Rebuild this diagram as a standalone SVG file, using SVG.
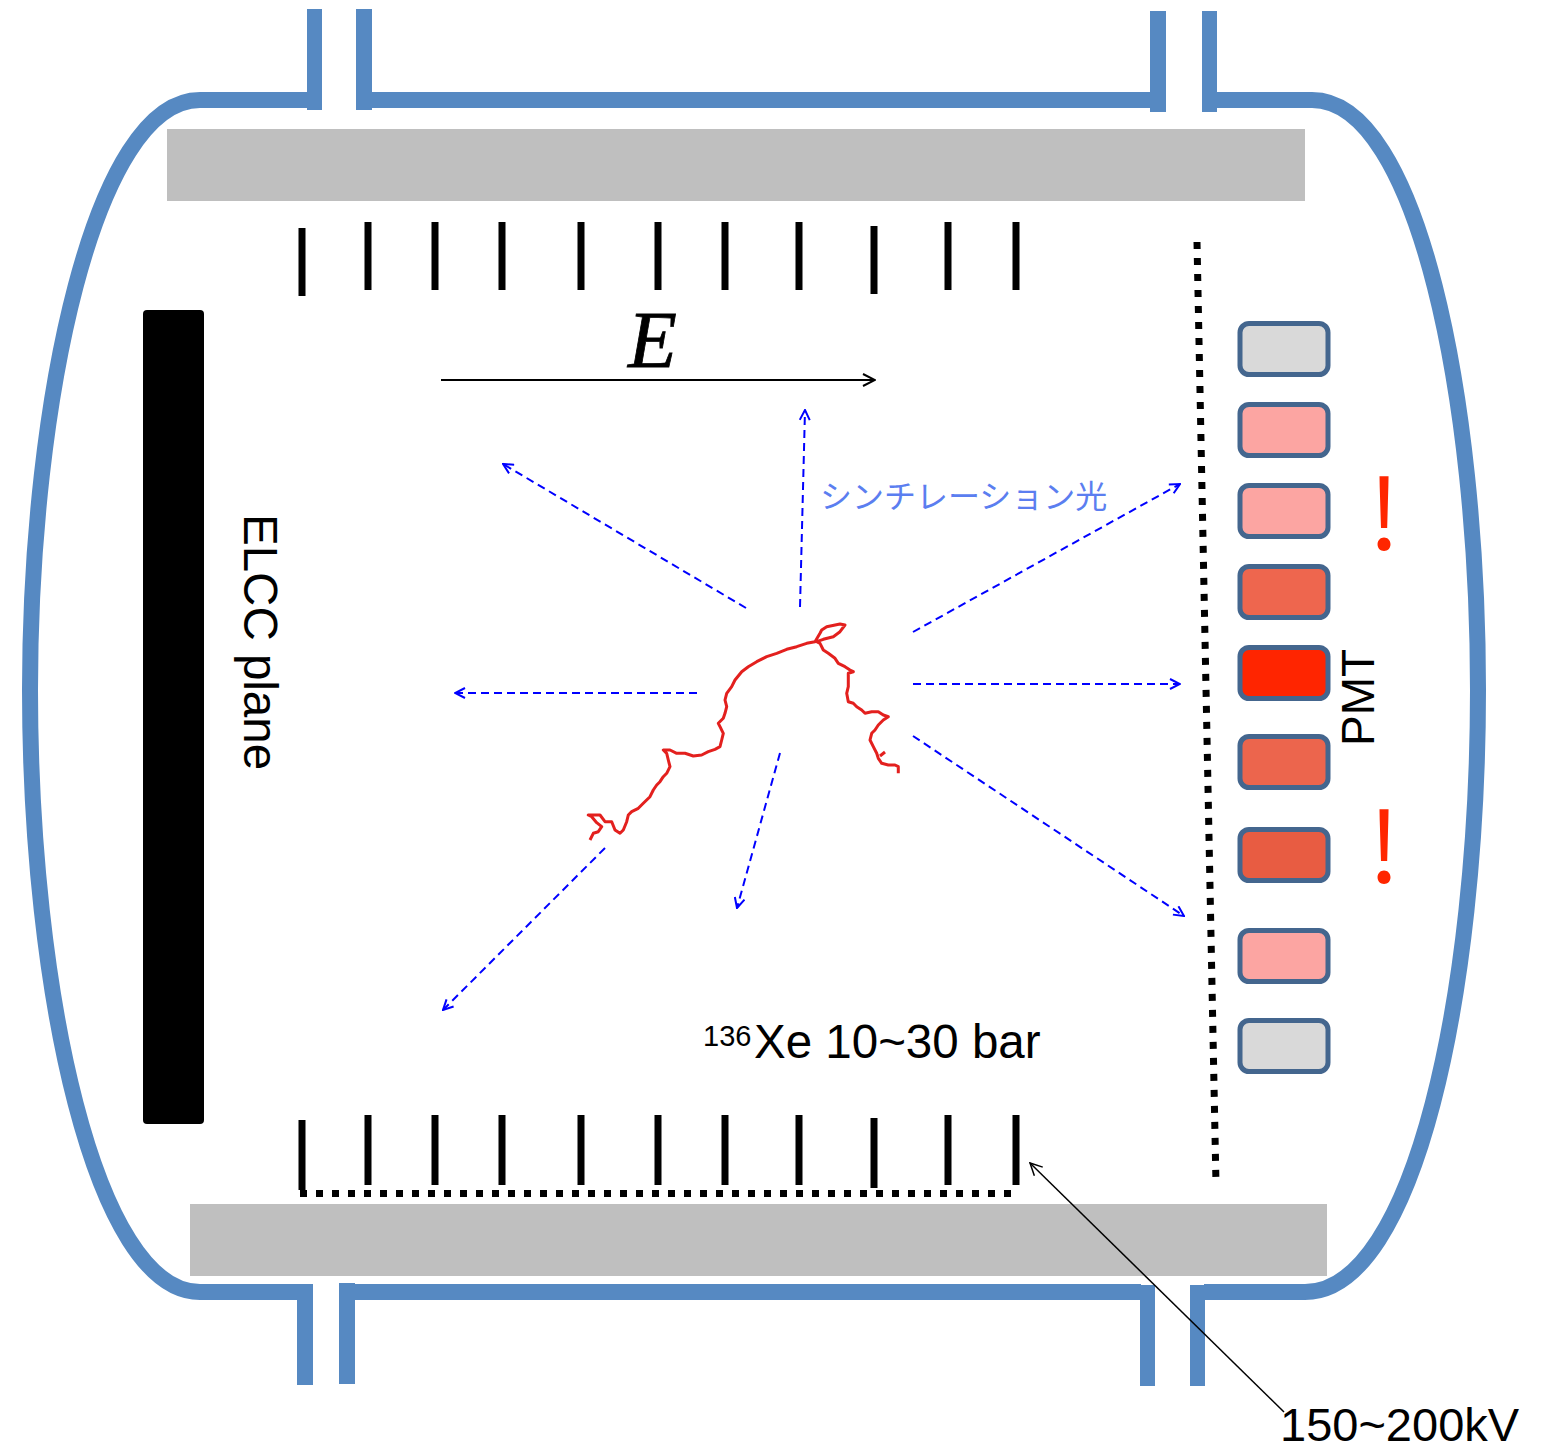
<svg xmlns="http://www.w3.org/2000/svg" width="1547" height="1449" viewBox="0 0 1547 1449">
  <style>
    .wall { fill: none; stroke: #5689C2; stroke-width: 16; }
    .stub { fill: #5689C2; }
    .plate { fill: #BFBFBF; }
    .ring { fill: #000000; }
    .dots { fill: none; stroke: #000000; stroke-width: 7; stroke-dasharray: 7 9; }
    .pmt { stroke: #44668E; stroke-width: 5; }
    .ray { fill: none; stroke: #0000FF; stroke-width: 2; stroke-dasharray: 8 5; marker-end: url(#ah-blue); }
    .lbl { font-family: "Liberation Sans", Arial, sans-serif; fill: #000000; }
    .warn { font-family: "Noto Sans CJK JP", "Noto Sans", sans-serif; fill: #FF2600; text-anchor: middle; }
  </style>
  <defs>
    <marker id="ah-blue" viewBox="0 0 12 12" refX="11" refY="6" markerWidth="12" markerHeight="12" markerUnits="userSpaceOnUse" orient="auto">
      <path d="M1,1 L11,6 L1,11" fill="none" stroke="#0000FF" stroke-width="2" stroke-dasharray="none"/>
    </marker>
    <marker id="ah-black" viewBox="0 0 14 14" refX="13" refY="7" markerWidth="14" markerHeight="14" markerUnits="userSpaceOnUse" orient="auto">
      <path d="M1,1 L13,7 L1,13" fill="none" stroke="#000000" stroke-width="2"/>
    </marker>
    <marker id="ah-thin" viewBox="0 0 14 14" refX="13" refY="7" markerWidth="14" markerHeight="14" markerUnits="userSpaceOnUse" orient="auto">
      <path d="M1,1 L13,7 L1,13" fill="none" stroke="#000000" stroke-width="1.5"/>
    </marker>
  </defs>

  <rect width="1547" height="1449" fill="#FFFFFF"/>

  <!-- pressure vessel outline with its four ports -->
  <g id="vessel">
    <path class="wall" d="M308,100 H200 C95,100 30,400 30,690 C30,990 95,1292 200,1292 H298"/>
    <path class="wall" d="M371,100 H1151"/>
    <path class="wall" d="M1216,100 H1312 C1418,100 1478,400 1478,690 C1478,990 1415,1292 1305,1292 H1204"/>
    <path class="wall" d="M354,1292 H1141"/>
    <rect class="stub" x="307" y="9" width="15" height="101"/>
    <rect class="stub" x="356" y="9" width="16" height="101"/>
    <rect class="stub" x="1150" y="11" width="16" height="101"/>
    <rect class="stub" x="1202" y="11" width="15" height="101"/>
    <rect class="stub" x="297" y="1284" width="16" height="101"/>
    <rect class="stub" x="339" y="1283" width="16" height="101"/>
    <rect class="stub" x="1140" y="1285" width="15" height="101"/>
    <rect class="stub" x="1190" y="1285" width="15" height="101"/>
  </g>

  <!-- end plates -->
  <g id="plates">
    <rect class="plate" x="167" y="129" width="1138" height="72"/>
    <rect class="plate" x="190" y="1204" width="1137" height="72"/>
  </g>

  <!-- field cage electrodes -->
  <g id="field-cage-top">
    <rect class="ring" x="298.5" y="228" width="7" height="68"/>
    <rect class="ring" x="364.5" y="222" width="7" height="68"/>
    <rect class="ring" x="431.5" y="222" width="7" height="68"/>
    <rect class="ring" x="498.5" y="222" width="7" height="68"/>
    <rect class="ring" x="577.5" y="222" width="7" height="68"/>
    <rect class="ring" x="654.5" y="222" width="7" height="68"/>
    <rect class="ring" x="721.5" y="222" width="7" height="68"/>
    <rect class="ring" x="795.5" y="222" width="7" height="68"/>
    <rect class="ring" x="870.5" y="226" width="7" height="68"/>
    <rect class="ring" x="944.5" y="222" width="7" height="68"/>
    <rect class="ring" x="1012.5" y="222" width="7" height="68"/>
  </g>
  <g id="field-cage-bottom">
    <rect class="ring" x="298.5" y="1120" width="7" height="70"/>
    <rect class="ring" x="364.5" y="1115" width="7" height="70"/>
    <rect class="ring" x="431.5" y="1115" width="7" height="70"/>
    <rect class="ring" x="498.5" y="1115" width="7" height="70"/>
    <rect class="ring" x="577.5" y="1115" width="7" height="70"/>
    <rect class="ring" x="654.5" y="1115" width="7" height="70"/>
    <rect class="ring" x="721.5" y="1115" width="7" height="70"/>
    <rect class="ring" x="795.5" y="1115" width="7" height="70"/>
    <rect class="ring" x="870.5" y="1118" width="7" height="70"/>
    <rect class="ring" x="944.5" y="1115" width="7" height="70"/>
    <rect class="ring" x="1012.5" y="1115" width="7" height="70"/>
    <line class="dots" x1="300" y1="1193.5" x2="1014" y2="1193.5"/>
  </g>

  <!-- mesh in front of the PMT array -->
  <g id="mesh">
    <line class="dots" x1="1197" y1="242" x2="1216" y2="1184"/>
  </g>

  <!-- ELCC readout plane -->
  <g id="elcc">
    <rect x="143" y="310" width="61" height="814" rx="4" fill="#000000"/>
    <text class="lbl" font-size="47.5" transform="translate(244,514) rotate(90)">ELCC plane</text>
  </g>

  <!-- PMT array, shaded by light yield -->
  <g id="pmts">
    <g id="pmt1"><rect class="pmt" x="1240" y="323.5" width="88" height="51" rx="9" fill="#D9D9D9"/></g>
    <g id="pmt2"><rect class="pmt" x="1240" y="404.5" width="88" height="51" rx="9" fill="#FCA5A2"/></g>
    <g id="pmt3"><rect class="pmt" x="1240" y="485.5" width="88" height="51" rx="9" fill="#FCA5A2"/></g>
    <g id="pmt4"><rect class="pmt" x="1240" y="566.5" width="88" height="51" rx="9" fill="#EE664E"/></g>
    <g id="pmt5"><rect class="pmt" x="1240" y="647.5" width="88" height="51" rx="9" fill="#FF2500"/></g>
    <g id="pmt6"><rect class="pmt" x="1240" y="736.5" width="88" height="51" rx="9" fill="#EC654D"/></g>
    <g id="pmt7"><rect class="pmt" x="1240" y="829.5" width="88" height="51" rx="9" fill="#E85C42"/></g>
    <g id="pmt8"><rect class="pmt" x="1240" y="930.5" width="88" height="51" rx="9" fill="#FCA5A2"/></g>
    <g id="pmt9"><rect class="pmt" x="1240" y="1020.5" width="88" height="51" rx="9" fill="#D9D9D9"/></g>
    <text class="lbl" font-size="46" transform="translate(1374,746) rotate(-90)">PMT</text>
    <text class="warn" x="1384" y="550" font-size="98">!</text>
    <text class="warn" x="1384" y="883" font-size="98">!</text>
  </g>

  <!-- electron track -->
  <g id="track">
    <path fill="none" stroke="#E3201E" stroke-width="3" stroke-linejoin="round" d="M590,840 L593.3,833.3 598.3,831.7 601.7,826.7 596.7,822.7 591.7,816.7 588.3,815 600,815 605,821.7 611.7,821.7 615,830 620,833.3 623.3,830 626.7,821.7 628.3,815 631.7,811.7 638.3,808.3 643.3,803.3 650,796.7 653.3,790 656.7,785 660,781.7 663.3,776.7 666.7,773.3 670,766.7 668.3,760 666.7,753.3 663.3,750 670,750 676.7,753.3 685,753.3 693.3,756 701.7,755 708.3,751.7 715,749.3 720,746.7 721.7,740 723.3,733.3 720,726.7 718.3,723.3 723.3,718.3 725,713.3 726.7,706.7 725,700 726.7,693.3 731.7,686.7 735,680 741.7,671.7 748.3,666.7 756.7,661.7 766.7,656.7 776.7,653.3 786.7,649.3 796.7,646.7 806.7,643.3 815,641.7 820,633.3 821.7,630 826.7,626.7 840,624 845,625 840,631.7 833.3,636.7 823.3,639.3 816.7,641.7 820,643.3 823.3,650 828.3,653.3 835,658.3 838.3,663.3 845,666.7 850,670 853.3,671.7 848.3,673.3 848.3,686.7 846.7,693.3 848.3,701.7 853.3,703.3 856.7,706.7 861.7,710 865,713.3 871.7,711.7 878.3,711.7 883.3,715 888.3,716.7 883.3,720 878.3,725 875,730 871.7,733.3 870,740 873.3,746.7 876.7,753.3 878.3,758.3 881.7,763.3 888.3,765 895,765 898.3,766.7 898.3,773.3"/>
    <path fill="none" stroke="#E3201E" stroke-width="3" d="M880,756 L885,752"/>
  </g>

  <!-- scintillation light rays and field arrow -->
  <g id="connectors">
    <line class="ray" x1="746" y1="608" x2="503" y2="464"/>
    <line class="ray" x1="800" y1="607" x2="805" y2="410"/>
    <line class="ray" x1="913" y1="632" x2="1180" y2="484"/>
    <line class="ray" x1="697" y1="693" x2="455" y2="693"/>
    <line class="ray" x1="913" y1="684" x2="1180" y2="684"/>
    <line class="ray" x1="913" y1="736" x2="1184" y2="916"/>
    <line class="ray" x1="780" y1="753" x2="737" y2="908"/>
    <line class="ray" x1="605" y1="848" x2="443" y2="1010"/>
    <line x1="441" y1="380" x2="875" y2="380" stroke="#000000" stroke-width="2" marker-end="url(#ah-black)"/>
    <line x1="1284" y1="1412" x2="1030" y2="1163" stroke="#000000" stroke-width="1.5" marker-end="url(#ah-thin)"/>
  </g>

  <!-- labels -->
  <g id="labels">
    <text x="628" y="367" font-family="Liberation Serif, serif" font-style="italic" font-size="80" fill="#000000" stroke="#000000" stroke-width="0.8">E</text>
    <text x="820" y="508" font-family="Noto Sans CJK JP, sans-serif" font-size="32" fill="#5B7EF0">シンチレーション光</text>
    <text class="lbl" x="703" y="1046" font-size="29">136</text>
    <text class="lbl" x="754" y="1058" font-size="47.5">Xe 10~30 bar</text>
    <text class="lbl" x="1280" y="1441" font-size="47">150~200kV</text>
  </g>
</svg>
